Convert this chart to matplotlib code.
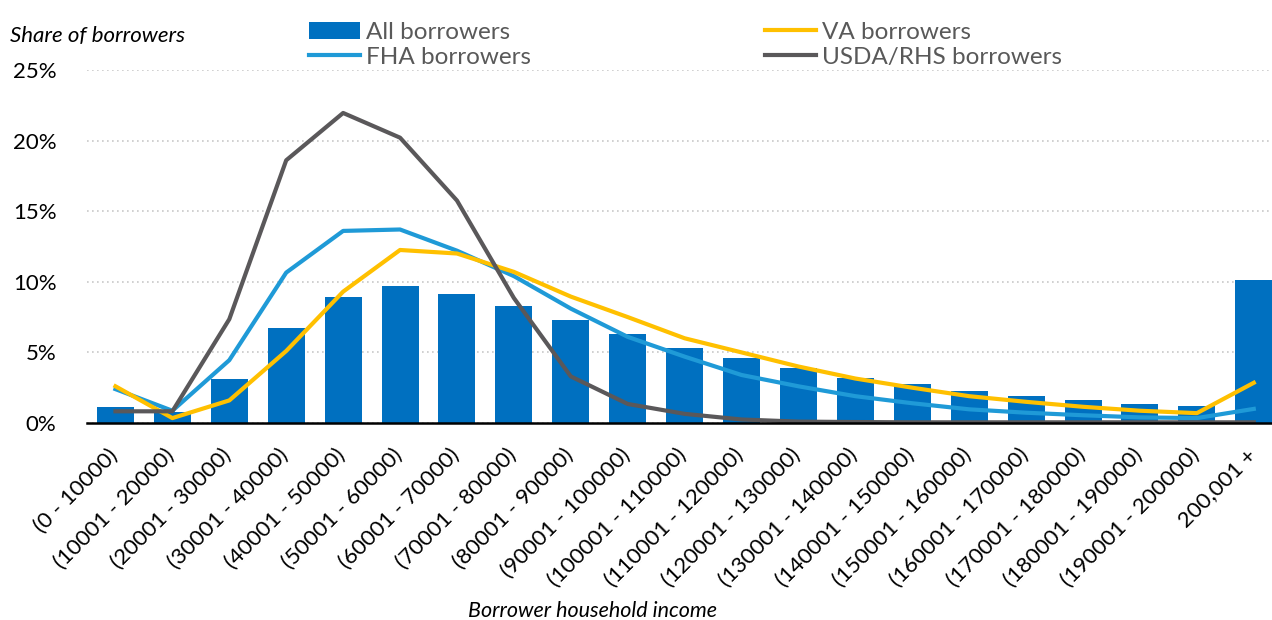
import numpy as np
import matplotlib.pyplot as plt
from matplotlib.ticker import PercentFormatter
from matplotlib.transforms import ScaledTranslation

plt.rcParams['font.family'] = ['Lato', 'DejaVu Sans']

# income brackets
categories = ['(0 - 10000)', '(10001 - 20000)', '(20001 - 30000)', '(30001 - 40000)',
              '(40001 - 50000)', '(50001 - 60000)', '(60001 - 70000)', '(70001 - 80000)',
              '(80001 - 90000)', '(90001 - 100000)', '(100001 - 110000)', '(110001 - 120000)',
              '(120001 - 130000)', '(130001 - 140000)', '(140001 - 150000)', '(150001 - 160000)',
              '(160001 - 170000)', '(170001 - 180000)', '(180001 - 190000)', '(190001 - 200000)',
              '200,001 +']

# share of borrowers, %
all_borrowers = [1.1, 0.75, 3.1, 6.7, 8.95, 9.7, 9.1, 8.3, 7.3, 6.3, 5.3, 4.6, 3.9, 3.2,
                 2.75, 2.25, 1.9, 1.6, 1.35, 1.2, 10.1]
fha = [2.4, 0.87, 4.45, 10.65, 13.6, 13.7, 12.2, 10.4, 8.1, 6.1, 4.7, 3.4, 2.6, 1.9,
       1.4, 0.97, 0.73, 0.55, 0.4, 0.35, 1.0]
va = [2.6, 0.35, 1.6, 5.1, 9.3, 12.25, 12.0, 10.7, 8.95, 7.5, 6.0, 5.0, 4.0, 3.15,
      2.5, 1.9, 1.5, 1.15, 0.87, 0.7, 2.85]
usda = [0.83, 0.83, 7.35, 18.6, 21.95, 20.2, 15.75, 8.85, 3.3, 1.35, 0.65, 0.25, 0.1, 0.07,
        0.05, 0.05, 0.05, 0.05, 0.05, 0.05, 0.05]

x = np.arange(len(categories))

fig = plt.figure(figsize=(12.72, 6.2), dpi=100)
ax = fig.add_axes([0.0684, 0.3177, 0.9316, 0.5696])

bars = ax.bar(x, all_borrowers, width=0.65, color='#0070C0', label='All borrowers', zorder=2)
l_fha, = ax.plot(x, fha, color='#1F9AD7', lw=3, label='FHA borrowers', zorder=3)
l_va, = ax.plot(x, va, color='#FFC000', lw=3, label='VA borrowers', zorder=4)
l_usda, = ax.plot(x, usda, color='#5A585A', lw=3, label='USDA/RHS borrowers', zorder=5)

ax.set_xlim(-0.5, 20.32)
ax.set_ylim(0, 25)
ax.set_yticks([0, 5, 10, 15, 20, 25])
ax.yaxis.set_major_formatter(PercentFormatter(decimals=0))
ax.grid(axis='y', color='#C8C8C8', linestyle=(0, (1, 2)), lw=1.2, zorder=0)
ax.set_axisbelow(True)

for s in ['left', 'right', 'top']:
    ax.spines[s].set_visible(False)
ax.spines['bottom'].set_linewidth(1.8)
ax.spines['bottom'].set_color('black')
ax.spines['bottom'].set_zorder(6)

ax.set_xticks(x)
ax.set_xticklabels(categories, rotation=45, ha='right', rotation_mode='anchor', fontsize=16)
ax.tick_params(axis='both', length=0)
ax.tick_params(axis='x', pad=10)
ax.tick_params(axis='y', labelsize=16, pad=22)
# nudge rotated labels down-left along their baseline
shift = ScaledTranslation(-8 / 100, -8 / 100, fig.dpi_scale_trans)
for lab in ax.get_xticklabels():
    lab.set_transform(lab.get_transform() + shift)

fig.legend([bars, l_fha, l_va, l_usda],
           ['All borrowers', 'FHA borrowers', 'VA borrowers', 'USDA/RHS borrowers'],
           ncol=2, frameon=False, fontsize=17.5, loc='upper left',
           bbox_to_anchor=(0.226, 1.0), handlelength=2.1, handletextpad=0.25,
           columnspacing=9.6, labelspacing=0.15, labelcolor='#595959')

fig.text(0.008, 0.942, 'Share of borrowers', fontsize=16, style='italic', va='center')
fig.text(0.466, 0.0145, 'Borrower household income', fontsize=15.5, style='italic',
         ha='center', va='center')

fig.savefig('out.png', dpi=100)
